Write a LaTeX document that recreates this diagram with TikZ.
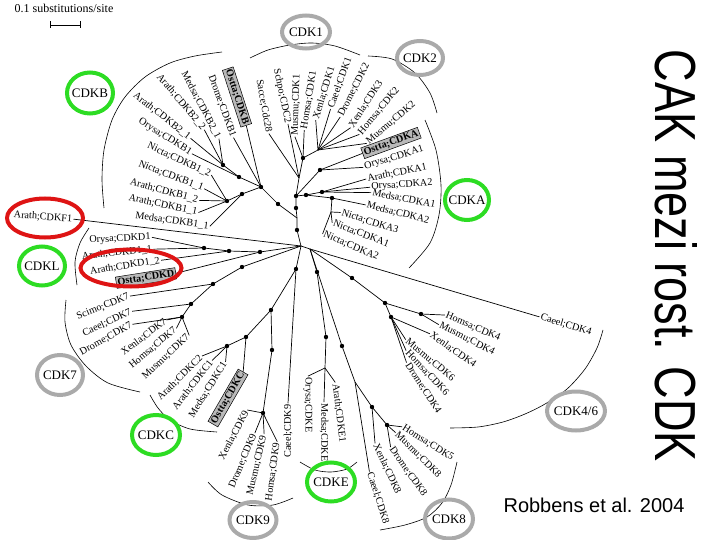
\documentclass[tikz,border=0pt]{standalone}
\usepackage{fontspec}
\setmainfont{Liberation Serif}
\newfontfamily\arialf{Liberation Sans}
\usetikzlibrary{shapes.geometric}
\definecolor{cgreen}{RGB}{45,220,35}
\definecolor{cgray}{RGB}{170,170,170}
\definecolor{cred}{RGB}{222,20,20}
\definecolor{boxgray}{RGB}{185,185,185}
\begin{document}
\begin{tikzpicture}[x=1pt,y=-1pt,
 br/.style={line width=0.7pt},
 arcl/.style={line width=0.6pt},
 lab/.style={font=\fontsize{10.2}{11}\selectfont, inner sep=1.2pt},
 ost/.style={font=\bfseries\fontsize{10.2}{11}\selectfont, inner sep=1.5pt, fill=boxgray, draw, line width=0.5pt},
 ring/.style={ellipse, line width=4pt, inner sep=0pt},
 grn/.style={ring, draw=cgreen},
 gry/.style={ring, draw=cgray},
 rd/.style={ring, draw=cred},
 rtext/.style={font=\fontsize{13}{13}\selectfont, inner sep=0pt},
]
\useasboundingbox (0,0) rectangle (720,540);

% scale bar
\node[font=\fontsize{12}{12}\selectfont, inner sep=0pt] (scl) at (64,8) {0.1 substitutions/site};
\coordinate (sb1) at (50,25);
\coordinate (sb2) at (80,25);
\draw[line width=0.7pt] (sb1) -- (sb2);
\draw[line width=0.7pt] ([yshift=-3pt]sb1) -- ([yshift=4pt]sb1);
\draw[line width=0.7pt] ([yshift=-3pt]sb2) -- ([yshift=4pt]sb2);

% internal nodes
\coordinate (R) at (301,246);
\coordinate (R2) at (310,249);
\coordinate (u1) at (297,230);
\coordinate (s1) at (297,218);
\coordinate (u2) at (296,208);
\coordinate (u3) at (296,196);
\coordinate (u3b) at (299,178);
\coordinate (u6) at (303,158);
\coordinate (u7) at (318,150);
\coordinate (u4) at (306,195);
\coordinate (u5) at (320,170);
\coordinate (ca1) at (322,192);
\coordinate (ca2) at (332,198);
\coordinate (ca3) at (331,212);
\coordinate (b1) at (278,204);
\coordinate (b2) at (261,187);
\coordinate (b3) at (239,177);
\coordinate (b4) at (223,165);
\coordinate (b5) at (242,194);
\coordinate (b6) at (227,201);
\coordinate (d1) at (260,252);
\coordinate (d2) at (229,251);
\coordinate (d3) at (204,248);
\coordinate (k1) at (242,267);
\coordinate (k2) at (213,284);
\coordinate (k3) at (191,304);
\coordinate (k4) at (182,317);
\coordinate (c0) at (296,269);
\coordinate (c1) at (271,310);
\coordinate (c2) at (246,337);
\coordinate (c3) at (227,346);
\coordinate (c4) at (272,350);
\coordinate (c5) at (263,413);
\coordinate (e1) at (317,272);
\coordinate (e2) at (326,337);
\coordinate (e3) at (325,368);
\coordinate (g1) at (342,346);
\coordinate (g2) at (355,382);
\coordinate (g3) at (372,407);
\coordinate (g4) at (387,425);
\coordinate (h1) at (352,278);
\coordinate (h2) at (385,303);
\coordinate (h3) at (421,314);
\coordinate (h4) at (391,317);

% labels: CDKB
\node[lab,rotate=-50] (lB22) at (181,102) {Arath;CDKB2\_2};
\node[lab,rotate=-62] (lMB21) at (201,105) {Medsa;CDKB2\_1};
\node[lab,rotate=-70] (lDB1) at (222,106) {Drome;CDKB1};
\node[ost,rotate=-72] (lOB) at (237,97) {Ostta;CDKB};
\node[lab,rotate=-38] (lB21) at (162,116) {Arath;CDKB2\_1};
\node[lab,rotate=-32] (lOrB1) at (165,137) {Orysa;CDKB1};
\node[lab,rotate=-25] (lNB12) at (179,160) {Nicta;CDKB1\_2};
\node[lab,rotate=-21] (lNB11) at (171,176) {Nicta;CDKB1\_1};
\node[lab,rotate=-15] (lAB12) at (164,191) {Arath;CDKB1\_2};
\node[lab,rotate=-12] (lAB11) at (163,205) {Arath;CDKB1\_1};
\node[lab,rotate=-8] (lMB11) at (172,221) {Medsa;CDKB1\_1};
% CDK1 / CDK2
\node[lab,rotate=-80] (lSac) at (264,106) {Sacce;Cdc28};
\node[lab,rotate=-78] (lSch) at (282,96) {Schpo;CDC2};
\node[lab,rotate=88] (lMu1) at (296,105) {Musmu;CDK1};
\node[lab,rotate=81] (lHo1) at (309,100) {Homsa;CDK1};
\node[lab,rotate=73] (lXe1) at (324,93) {Xenla;CDK1};
\node[lab,rotate=70] (lCa1) at (340,83) {Caeel;CDK1};
\node[lab,rotate=63] (lDr2) at (354,90) {Drome;CDK2};
\node[lab,rotate=57] (lXe3) at (366,104) {Xenla;CDK3};
\node[lab,rotate=50] (lHo2) at (379,111) {Homsa;CDK2};
\node[lab,rotate=40] (lMu2) at (391,123) {Musmu;CDK2};
% CDKA
\node[ost,rotate=20] (lOA) at (391,143) {Ostta;CDKA};
\node[lab,rotate=17] (lOrA1) at (394,158) {Orysa;CDKA1};
\node[lab,rotate=11] (lArA1) at (397,173) {Arath;CDKA1};
\node[lab,rotate=4] (lOrA2) at (402,185) {Orysa;CDKA2};
\node[lab,rotate=-11] (lMA1) at (404,199) {Medsa;CDKA1};
\node[lab,rotate=-14] (lMA2) at (398,213) {Medsa;CDKA2};
\node[lab,rotate=-18] (lNA3) at (370,222) {Nicta;CDKA3};
\node[lab,rotate=-21] (lNA1) at (361,234) {Nicta;CDKA1};
\node[lab,rotate=-23] (lNA2) at (351,246) {Nicta;CDKA2};
% CDKF / CDKD
\node[lab,rotate=-4] (lF1) at (43,217) {Arath;CDKF1};
\node[lab,rotate=3] (lOrD1) at (120,239) {Orysa;CDKD1};
\node[lab,rotate=6] (lAD11) at (117,253) {Arath;CDKD1\_1};
\node[lab,rotate=9] (lAD12) at (125,266) {Arath;CDKD1\_2};
\node[ost,rotate=9] (lOD) at (146,278) {Ostta;CDKD};
% CDK7
\node[lab,rotate=22] (lSc7) at (103,307) {Scimo;CDK7};
\node[lab,rotate=25] (lCa7) at (107,323) {Caeel;CDK7};
\node[lab,rotate=29] (lDr7) at (106,339) {Drome;CDK7};
\node[lab,rotate=37] (lXe7) at (144,337) {Xenla;CDK7};
\node[lab,rotate=40] (lHo7) at (153,348) {Homsa;CDK7};
\node[lab,rotate=43] (lMu7) at (166,357) {Musmu;CDK7};
% CDKC
\node[lab,rotate=45] (lAC2) at (180,378) {Arath;CDKC2};
\node[lab,rotate=52] (lAC1) at (193,385) {Arath;CDKC1};
\node[lab,rotate=58] (lMC1) at (208,390) {Medsa;CDKC1};
\node[ost,rotate=60] (lOC) at (228,398) {Ostta;CDKC};
% CDK9
\node[lab,rotate=62] (lXe9) at (234,435) {Xenla;CDK9};
\node[lab,rotate=67] (lDr9) at (243,461) {Drome;CDK9};
\node[lab,rotate=77] (lMu9) at (257,465) {Musmu;CDK9};
\node[lab,rotate=82] (lHo9) at (273,472) {Homsa;CDK9};
\node[lab,rotate=90] (lCa9) at (288,431) {Caeel;CDK9};
% CDKE
\node[lab,rotate=-90] (lOrE) at (308,405) {Orysa;CDKE};
\node[lab,rotate=-90] (lMeE) at (324,435) {Medsa;CDKE1};
\node[lab,rotate=-83] (lArE) at (339,413) {Arath;CDKE1};
% CDK8
\node[lab,rotate=-32] (lHo5) at (428,443) {Homsa;CDK5};
\node[lab,rotate=-45] (lMu8) at (418,455) {Musmu;CDK8};
\node[lab,rotate=-55] (lDr8) at (408,472) {Drome;CDK8};
\node[lab,rotate=-65] (lXe8) at (387,469) {Xenla;CDK8};
\node[lab,rotate=-72] (lCa8) at (378,498) {Caeel;CDK8};
% CDK4/6
\node[lab,rotate=-17] (lCa4) at (566,325) {Caeel;CDK4};
\node[lab,rotate=-23] (lHo4) at (473,327) {Homsa;CDK4};
\node[lab,rotate=-27] (lMu4) at (467,339) {Musmu;CDK4};
\node[lab,rotate=-35] (lXe4) at (453,350) {Xenla;CDK4};
\node[lab,rotate=-40] (lMu6) at (430,360) {Musmu;CDK6};
\node[lab,rotate=-47] (lHo6) at (427,373) {Homsa;CDK6};
\node[lab,rotate=-57] (lDr4) at (423,388) {Drome;CDK4};

% backbone
\draw[br] (R)--(R2);
\draw[br] (R)--(u1)--(s1)--(u2)--(u3)--(u3b)--(u6)--(u7);
\draw[br] (u3)--(u4)--(ca1);
\draw[br] (u4)--(ca2)--(ca3);
\draw[br] (u3)--(u5);
\draw[br] (s1)--(b1)--(b2)--(b3)--(b4);
\draw[br] (b2)--(b5)--(b6);
\draw[br] (R)--(lF1.east);
\draw[br] (R)--(d1)--(d2)--(d3);
\draw[br] (R)--(k1)--(k2)--(k3)--(k4);
\draw[br] (R)--(c0)--(c1)--(c2)--(c3);
\draw[br] (c1)--(c4)--(c5);
\draw[br] (R2)--(e1)--(e2)--(e3);
\draw[br] (R2)--(g1)--(g2)--(g3)--(g4);
\draw[br] (R2)--(h1)--(h2)--(h3);
\draw[br] (h2)--(h4);
\draw[br] (R2)--(lCa4.west);

% leaves
\foreach \p/\l/\a in {b4/lB22/east, b4/lMB21/east, b2/lDB1/east, b2/lOB/east, b4/lB21/east,
  b3/lOrB1/east, b6/lNB12/east, b6/lNB11/east, b6/lAB12/east, b6/lAB11/east, b5/lMB11/east,
  u3b/lSac/east, u3b/lSch/east, u6/lMu1/west, u6/lHo1/west, u7/lXe1/west, u7/lCa1/west,
  u7/lDr2/west, u7/lXe3/west, u7/lHo2/west, u7/lMu2/west,
  u5/lOA/west, u5/lOrA1/west, ca1/lArA1/west, ca1/lOrA2/west, ca1/lMA1/west, ca2/lMA2/west,
  ca3/lNA3/west, ca3/lNA1/west, ca3/lNA2/west,
  d3/lOrD1/east, d3/lAD11/east, d2/lAD12/east, d1/lOD/east,
  k2/lSc7/east, k3/lCa7/east, k4/lDr7/east, k4/lXe7/east, k4/lHo7/east, k4/lMu7/east,
  c3/lAC2/east, c3/lAC1/east, c3/lMC1/east, c2/lOC/east,
  c5/lXe9/east, c5/lDr9/east, c5/lMu9/east, c5/lHo9/east, c0/lCa9/east,
  e3/lOrE/west, e3/lMeE/west, e3/lArE/west,
  g4/lHo5/west, g4/lMu8/west, g4/lDr8/west, g3/lXe8/west, g2/lCa8/west,
  h3/lHo4/west, h3/lMu4/west, h4/lXe4/west, h4/lMu6/west, h4/lHo6/west, h4/lDr4/west}
  \draw[br] (\p) -- (\l.\a);

% dots
\foreach \n in {u1,u2,u3,u4,u5,u6,ca1,ca2,b1,b2,b3,b4,b5,b6,d1,d2,d3,k1,k2,k3,k4,
  c0,c1,c2,c3,c4,c5,e1,e2,g1,g3,g4,h1,h2,h3,h4}
  \fill (\n) circle (2.2pt);

% clade arcs
\draw[arcl] plot[smooth] coordinates {(222,52) (195,56) (170,63) (145,77) (125,97) (112,120) (104,150) (102,180) (104,208)};
\draw[arcl] plot[smooth] coordinates {(250,58) (268,50) (290,45) (312,43) (335,46) (360,55)};
\draw[arcl] plot[smooth] coordinates {(368,56) (392,59) (415,73) (430,93) (437,113)};
\draw[arcl] plot[smooth] coordinates {(425,120) (436,150) (441,185) (439,215) (430,243) (409,268)};
\draw[arcl] plot[smooth] coordinates {(89,228) (80,243) (75,262) (77,285)};
\draw[arcl] plot[smooth] coordinates {(66,300) (65,322) (71,345) (86,366) (108,383) (140,392)};
\draw[arcl] plot[smooth] coordinates {(150,395) (158,408) (170,420) (190,429) (217,432)};
\draw[arcl] plot[smooth] coordinates {(208,482) (222,495) (248,505) (273,505) (293,498)};
\draw[arcl] plot[smooth] coordinates {(300,462) (315,470) (331,472) (347,469) (357,462)};
\draw[arcl] plot[smooth] coordinates {(380,530) (405,525) (427,517) (442,503) (451,485) (457,462)};
\draw[arcl] plot[smooth] coordinates {(450,428) (478,427) (503,422) (525,414) (545,404) (567,389) (585,369) (597,348) (603,330)};

% rings
\node[grn, minimum width=46pt, minimum height=41pt] (eB) at (90,93) {};
\node[rtext] (tB) at (eB) {CDKB};
\node[gry, minimum width=48pt, minimum height=33pt] (eK1) at (306,32) {};
\node[rtext] (tK1) at (eK1) {CDK1};
\node[gry, minimum width=46pt, minimum height=34pt] (eK2) at (420,58) {};
\node[rtext] (tK2) at (eK2) {CDK2};
\node[grn, minimum width=44pt, minimum height=40pt] (eA) at (467,200) {};
\node[rtext] (tA) at (eA) {CDKA};
\node[rd, minimum width=76pt, minimum height=39pt] (eF) at (45,218) {};
\node[grn, minimum width=46pt, minimum height=39pt] (eL) at (42,266) {};
\node[rtext] (tL) at (eL) {CDKL};
\node[rd, minimum width=101pt, minimum height=37pt] (eD) at (131,268) {};
\node[gry, minimum width=46pt, minimum height=40pt] (eK7) at (60,375) {};
\node[rtext] (tK7) at (eK7) {CDK7};
\node[grn, minimum width=48pt, minimum height=40pt] (eC) at (156,435) {};
\node[rtext] (tC) at (eC) {CDKC};
\node[gry, minimum width=47pt, minimum height=36pt] (eK9) at (253,520) {};
\node[rtext] (tK9) at (eK9) {CDK9};
\node[grn, minimum width=48pt, minimum height=39pt] (eE) at (331,482) {};
\node[rtext] (tE) at (eE) {CDKE};
\node[gry, minimum width=48pt, minimum height=39pt] (eK8) at (449,519) {};
\node[rtext] (tK8) at (eK8) {CDK8};
\node[gry, minimum width=58pt, minimum height=39pt] (eK46) at (576,411) {};
\node[rtext] (tK46) at (eK46) {CDK4/6};

% title and source
\node[rotate=-90, inner sep=0pt] (title) at (676,256) {\resizebox{412pt}{42pt}{\arialf CAK mezi rost. CDK}};
\node[font=\arialf\fontsize{20}{20}\selectfont, inner sep=0pt] (src) at (594,505) {Robbens et al. 2004};
\end{tikzpicture}
\end{document}
